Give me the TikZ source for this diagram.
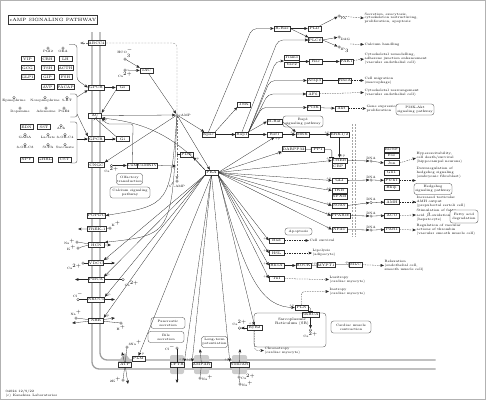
\documentclass[tikz,border=0pt]{standalone}
\usepackage{xcolor}
\usepackage{tikz}
\usetikzlibrary{arrows, positioning}

\begin{document}
\begin{tikzpicture}[x=1pt, y=-1pt,
			>=stealth',
			shorten >=0.3pt,
			line width=0.28pt,
			font=\fontsize{3.6}{4.2}\selectfont,
			gene/.style={draw=black!80, fill=white, inner sep=0.4pt, minimum width=13pt, minimum height=5pt},
			cpd/.style={draw=black!80, fill=white, circle, inner sep=0pt, minimum size=2.6pt},
			lbl/.style={font=\fontsize{3.2}{3.6}\selectfont, inner sep=0.4pt},
			txt/.style={anchor=west, align=left, inner sep=0.5pt, font=\fontsize{3.3}{3.8}\selectfont},
			pmap/.style={draw=black!80, fill=white, rounded corners=2.5pt, align=center, inner sep=0.6pt, font=\fontsize{3.3}{3.8}\selectfont},
			act/.style={->, black!85},
			inh/.style={-|, black!85},
			ind/.style={->, black!85, dash pattern=on 1.5pt off 1pt},
			transp/.style={gray, dash pattern=on 2pt off 1.2pt},
			memb/.style={gray!75, line width=1.3pt, rounded corners=7pt},
			plab/.style={font=\fontsize{3}{3}\selectfont, inner sep=0.3pt}]

			\useasboundingbox (0,0) rectangle (486,400);
			\draw[gray!60, line width=0.7pt] (0.5,0.5) rectangle (485.5,399.5);

			% title and membranes
			\node[draw=black!80, inner sep=1pt, minimum width=80pt, minimum height=9pt, font=\fontsize{4.6}{5}\selectfont] (title) at (53,19.5) {cAMP SIGNALING PATHWAY};
			\draw[memb] (92,32) -- (92,369) -- (436,369);
			\draw[memb] (100,32) -- (100,360) -- (436,360);
			\fill[gray!50] (118,362) -- (125,353) -- (132,362) -- cycle;
			\fill[gray!40, rounded corners=2pt] (170,355) rectangle (184,374);
			\fill[gray!40, rounded corners=2pt] (194,355) rectangle (209,374);
			\fill[gray!40, rounded corners=2pt] (232,355) rectangle (247,374);

			% ligands
			\node[cpd, label={[lbl]below:PGI2}] (pgi2) at (48,48) {};
			\node[cpd, label={[lbl]below:OEA}] (oea) at (63,48) {};
			\node[gene] (vip) at (27.5,59) {VIP};
			\node[gene] (crh) at (47.5,59) {CRH};
			\node[gene] (lh) at (65.5,59) {LH};
			\node[gene] (gcg) at (27.5,68) {GCG};
			\node[gene] (tsh) at (47.5,68) {TSH};
			\node[gene] (acth) at (65.5,68) {ACTH};
			\node[gene] (glp1) at (27.5,77) {GLP1};
			\node[gene] (gip) at (47.5,77) {GIP};
			\node[gene] (fsh) at (65.5,77) {FSH};
			\node[gene] (avp) at (47.5,87) {AVP};
			\node[gene] (pacap) at (65.5,87) {PACAP};
			\node[cpd, label={[lbl]below:Epinephrine}] (epi) at (14,97.5) {};
			\node[cpd, label={[lbl]below:Norepinephrine}] (nep) at (45,97.5) {};
			\node[cpd, label={[lbl]below:5-HT}] (ht5) at (67,97.5) {};
			\node[cpd, label={[lbl]below:Dopamine}] (dopa) at (20,108) {};
			\node[cpd, label={[lbl]below:Adenosine}] (ado) at (46,108) {};
			\node[cpd, label={[lbl]below:PGE2}] (pge2) at (64,108) {};
			\node[gene] (edn) at (26.5,127) {EDN};
			\node[gene] (sst) at (44,127) {SST};
			\node[cpd, label={[lbl]below:ACh}] (ach) at (61,125.5) {};
			\node[cpd, label={[lbl]below:GABA}] (gaba) at (25,134.5) {};
			\node[cpd, label={[lbl]below:Lactate}] (lac) at (48,134.5) {};
			\node[cpd, label={[lbl]below:3-OH-C4}] (ohcf) at (65,134.5) {};
			\node[cpd, label={[lbl]below:3-OH-C8}] (ohce) at (25,144.5) {};
			\node[cpd, label={[lbl]below:SCFA}] (scfa) at (48,144.5) {};
			\node[cpd, label={[lbl]below:Succinate}] (succ) at (65,144.5) {};
			\node[gene] (npy) at (26.5,159.5) {NPY};
			\node[gene] (ghrl) at (45,159.5) {GHRL};
			\node[gene] (cst) at (64.5,159.5) {CST};

			% membrane proteins
			\node[gene, minimum width=16pt] (abcc4) at (96.5,43) {ABCC4};
			\node[gene, minimum width=16pt] (gpcra) at (96,87.5) {GPCR};
			\node[gene] (gs) at (122.5,87.5) {Gs};
			\node[gene] (ac) at (95,115.5) {AC};
			\node[gene, minimum width=16pt] (gpcrb) at (96,139) {GPCR};
			\node[gene] (gi) at (122.5,139) {Gi};
			\node[gene, minimum width=16pt] (cngc) at (96.5,165) {CNGC};
			\node[gene, minimum width=16pt] (popdc) at (96.5,215.5) {POPDC};
			\node[gene, minimum width=16pt] (trek) at (96.5,229) {TREK-1};
			\node[gene, minimum width=16pt] (hcn) at (96.5,245) {HCN};
			\node[gene, minimum width=15pt] (vdcc) at (96,263) {VDCC};
			\node[gene, minimum width=15pt] (pmca) at (96,279.5) {PMCA};
			\node[gene, minimum width=15pt] (nkcc) at (96,299.5) {NKCC1};
			\node[gene, minimum width=15pt] (nhe) at (96,320.5) {NHE};
			\node[gene] (atp) at (125,364.5) {ATP};
			\node[gene] (plm) at (138.5,358.5) {PLM};
			\node[gene] (cftr) at (177,364.5) {CFTR};
			\node[gene, minimum width=16pt] (ampar) at (201.5,364.5) {AMPAR};
			\node[gene, minimum width=16pt] (nmdar) at (239.5,364.5) {NMDAR};

			% ions
			\node[cpd, label={[lbl]above:HCO$_3^-$}] (hco) at (125,59) {};
			\node[cpd, label={[lbl]below:Ca$^{2+}$}] (casac) at (125,70) {};
			\node[cpd, label={[lbl]below:Ca$^{2+}$}] (cacng) at (111.5,165.5) {};
			\node[cpd, label={[lbl]above right:K$^+$}] (ktrek) at (110,228) {};
			\node[cpd, label={[lbl]left:Na$^+$}] (nahcn) at (77,242) {};
			\node[cpd, label={[lbl]left:K$^+$}] (khcn) at (78,248) {};
			\node[cpd, label={[lbl]below left:Ca$^{2+}$}] (cavd) at (83,263) {};
			\node[cpd, label={[lbl]below right:Ca$^{2+}$}] (capm) at (123,279.5) {};
			\node[cpd, label={[lbl]above:Cl$^-$}] (clnk) at (78,299.5) {};
			\node[cpd, label={[lbl]above:Na$^+$}] (nanhe) at (76,318) {};
			\node[cpd, label={[lbl]below:H$^+$}] (hnhe) at (121,323) {};
			\node[cpd, label={[lbl]above right:3Na$^+$}] (nathree) at (127,347) {};
			\node[cpd, label={[lbl]left:2K$^+$}] (ktwo) at (123,380) {};
			\node[cpd, label={[lbl]left:Cl$^-$}] (clcf) at (177,348) {};
			\node[cpd, label={[lbl]right:Na$^+$}] (naamp) at (200,378) {};
			\node[cpd, label={[lbl]right:Ca$^{2+}$}] (canm) at (239,377) {};
			\node[cpd, label={[lbl]right:Na$^+$}] (nanm) at (240,384) {};
			\coordinate (about) at (80,43);
			\coordinate (trekout) at (78,229);
			\coordinate (hcnin) at (111,245);
			\coordinate (vdin) at (115,263);
			\coordinate (pmout) at (75,279.5);
			\coordinate (nkin) at (115,299.5);
			\coordinate (nhein) at (115,318);
			\coordinate (nheout) at (72,323);
			\coordinate (kin) at (122,352);
			\coordinate (naout) at (128,384);
			\coordinate (clout) at (177,383);
			\coordinate (ampin) at (200,349);
			\coordinate (nmin) at (240,349);

			% cytoplasm
			\node[gene] (sac) at (146.5,70.5) {sAC};
			\node[cpd, label={[lbl]right:cAMP}] (camp) at (177,115) {};
			\node[cpd, label={[lbl]below:5$'$-AMP}] (ampf) at (177,181) {};
			\node[gene] (pde) at (186.5,154.5) {PDE};
			\node[gene] (pka) at (211.5,172.5) {PKA};
			\node[gene, minimum width=11pt] (cam) at (132.5,165.5) {CaM};
			\node[gene, minimum width=19pt] (camkiv) at (147.5,165.5) {CaMKIV};
			\node[pmap, minimum width=25pt, minimum height=11pt] (olf) at (129.5,179) {Olfactory\\transduction};
			\node[pmap, minimum width=40pt, minimum height=11pt] (calsig) at (130,192.5) {Calcium signaling\\pathway};
			\coordinate (pdehit) at (177,154.5);
			\coordinate (pdehitb) at (176,166);

			\node[gene] (epac) at (208.5,134.5) {Epac};
			\node[gene] (rapa) at (242,134.5) {Rap1};
			\node[gene] (jnk) at (244,104.5) {JNK};
			\node[gene, minimum width=16pt] (rras) at (282,28.5) {R-Ras};
			\node[gene] (pld) at (314.5,28.5) {PLD};
			\node[gene] (plce) at (315.5,40) {PLC$\varepsilon$};
			\node[cpd, label={[lbl]below right:PA}] (pa) at (339,16) {};
			\node[cpd, label={[lbl]below right:DAG}] (dag) at (339,37) {};
			\node[cpd, label={[lbl]below right:IP$_3$}] (ipt) at (339,47) {};
			\coordinate (dagip) at (350,44);
			\node[txt] (sectxt) at (364,18) {Secretion, exocytosis,\\cytoskeleton restructuring,\\proliferation, apoptosis};
			\node[txt] (calctxt) at (364,44.5) {Calcium handling};
			\node[gene, minimum width=15pt] (tiam) at (291.5,57.5) {Tiam1};
			\node[gene, minimum width=15pt, below=2pt of tiam] (vav) {Vav2};
			\coordinate (tvin) at (284,61);
			\coordinate (tvout) at (299,61.5);
			\node[gene] (rac) at (316,61.5) {Rac};
			\node[gene] (pak) at (346.5,61.5) {PAK1};
			\node[txt] (cytoa) at (364,59) {Cytoskeletal remodelling,\\adherens junction enhancement\\(vascular endothelial cell)};
			\node[gene, minimum width=15pt] (arap) at (314.5,80.5) {Arap3};
			\node[gene] (rhoaa) at (345,80.5) {RhoA};
			\node[txt] (migr) at (364,80.5) {Cell migration\\(macrophage)};
			\node[gene] (afsix) at (313,94) {AF6};
			\node[txt] (cytob) at (364,92.5) {Cytoskeletal rearrangement\\(vascular endothelial cell)};
			\node[gene] (pik) at (313.5,107.5) {PI3K};
			\node[gene] (akt) at (341.5,108.5) {Akt};
			\node[txt] (gexp) at (366,108.5) {Gene expression,\\proliferation};
			\node[pmap, minimum width=38pt, minimum height=11pt] (pikakt) at (415,109.5) {PI3K-Akt\\signaling pathway};
			\node[gene, minimum width=15pt] (braf) at (274.5,121.5) {B-Raf};
			\node[gene, minimum width=15pt] (rafa) at (274.5,134.5) {Raf1};
			\node[pmap, minimum width=40pt, minimum height=11pt] (rapmap) at (303,121.5) {Rap1\\signaling pathway};
			\node[gene] (mek) at (302.5,134.5) {MEK};
			\node[gene, minimum width=15pt] (erk) at (339.5,134.5) {ERK1/2};
			\node[gene, minimum width=17pt] (darpp) at (293.5,149) {DARPP32};
			\node[gene] (ppa) at (318,149.5) {PP1};

			% nucleus
			\draw[transp, gray!70] (352.5,124) -- (352.5,237);
			\draw[transp, gray!70] (355.5,124) -- (355.5,237);
			\node[gene, minimum width=15pt] (creb) at (339.5,160.5) {CREB};
			\node[gene, below left=0pt and -13pt of creb] (cbp) {CBP};
			\node[cpd, label={[lbl]above:DNA}] (dnaa) at (371,161) {};
			\node[gene, minimum width=15pt] (bdnf) at (391.5,149.5) {BDNF};
			\node[gene, minimum width=15pt] (fos) at (391.5,155.5) {Fos};
			\node[gene, minimum width=15pt] (jun) at (391.5,163) {Jun};
			\node[txt] (hyper) at (416,158) {Hyperexcitability,\\cell death/survival\\(hippocampal neurons)};
			\node[gene, minimum width=15pt] (gli) at (339.5,180.5) {GLI};
			\node[cpd, label={[lbl]above:DNA}] (dnab) at (371,180) {};
			\node[gene, minimum width=15pt] (glia) at (391.5,172.5) {Gli1};
			\node[gene, minimum width=15pt] (ptch) at (391.5,180.5) {Ptch1};
			\node[gene, minimum width=15pt] (hhip) at (391.5,188) {Hhip};
			\node[txt] (dhh) at (416,173) {Downregulation of\\hedgehog signaling\\(embryonic fibroblast)};
			\node[pmap, minimum width=38pt, minimum height=11pt] (hhmap) at (433,189) {Hedgehog\\signaling pathway};
			\node[gene, minimum width=15pt] (ikb) at (339.5,190.5) {I$\kappa$B};
			\node[gene, minimum width=15pt] (nfkb) at (339.5,196.5) {NF$\kappa$B};
			\node[gene, minimum width=15pt] (soxn) at (339.5,205.5) {SOX9};
			\node[cpd, label={[lbl]above:DNA}] (dnac) at (371,202.5) {};
			\node[gene, minimum width=15pt] (amh) at (392,202) {AMH};
			\node[txt] (amhtxt) at (416,202) {Increased testicular\\AMH output\\(prepubertal sertoli cell)};
			\node[gene, minimum width=16pt] (ppar) at (340.5,215.5) {PPAR$\alpha$};
			\node[cpd, label={[lbl]above:DNA}] (dnad) at (371,216) {};
			\node[gene, minimum width=15pt] (aco) at (392,215.5) {ACO};
			\node[txt] (fattxt) at (416,215) {Stimulation of fatty\\acid $\beta$-oxidation\\(hepatocyte)};
			\node[pmap, minimum width=28pt, minimum height=13pt] (fadmap) at (464,216.5) {Fatty acid\\degradation};
			\node[gene, minimum width=15pt] (nfat) at (339.5,229.5) {NFAT};
			\node[cpd, label={[lbl]above:DNA}] (dnae) at (371,230) {};
			\node[gene, minimum width=15pt] (parn) at (392,229.5) {PAR1};
			\node[txt] (thrtxt) at (416,230) {Regulation of vascular\\actions of thrombin\\(vascular smooth muscle cell)};

			% PKA targets
			\node[pmap, minimum width=27pt, minimum height=7pt] (apopt) at (298.5,231.5) {Apoptosis};
			\node[gene, minimum width=15pt] (bad) at (276.5,240.5) {Bad};
			\node[txt] (survtxt) at (309,240.5) {Cell survival};
			\node[gene, minimum width=15pt] (hsl) at (276.5,253) {HSL};
			\node[txt] (lipotxt) at (312,253) {Lipolysis\\(adipocyte)};
			\node[gene, minimum width=15pt] (rhoab) at (276.5,265.5) {RhoA};
			\node[gene, minimum width=15pt] (rock) at (303.5,265.5) {ROCK};
			\node[gene, minimum width=15pt] (mypt) at (326,265) {MYPT1};
			\node[gene] (mlc) at (355.5,264.5) {MLC};
			\node[txt] (relax) at (384,265.5) {Relaxation\\(endothelial cell,\\smooth muscle cell)};
			\node[gene, minimum width=15pt] (tni) at (276.5,278.5) {TnI};
			\node[txt] (lusi) at (329,279.5) {Lusitropy\\(cardiac myocyte)};
			\node[txt] (ino) at (329,291.5) {Inotropy\\(cardiac myocyte)};

			% sarcoplasmic reticulum and maps
			\node[draw=black!80, rounded corners=3pt, minimum width=72pt, minimum height=34pt] (sr) at (290,330) {};
			\node[align=center, inner sep=0pt] (srtxt) at (292,322) {Sarcoplasmic\\Reticulum (SR)};
			\node[gene, minimum width=15pt] (ryr) at (254.5,328) {RyR2};
			\node[cpd, label={[lbl]above:Ca$^{2+}$}] (caryr) at (239.5,328) {};
			\node[txt] (chrono) at (264,350.5) {Chronotropy\\(cardiac myocyte)};
			\node[gene] (pln) at (301.5,307.5) {PLN};
			\node[gene, minimum width=17pt] (serca) at (310.5,314.5) {SERCA};
			\node[cpd, label={[lbl]below:Ca$^{2+}$}] (casr) at (310.5,330) {};
			\node[pmap, minimum width=40pt, minimum height=12pt] (cmc) at (351,327) {Cardiac muscle\\contraction};
			\node[pmap, minimum width=34pt, minimum height=11pt] (pancr) at (168,323) {Pancreatic\\secretion};
			\node[pmap, minimum width=36pt, minimum height=11pt] (bile) at (166,337) {Bile\\secretion};
			\node[pmap, minimum width=26pt, minimum height=11pt] (ltp) at (214.5,342) {Long-term\\potentiation};
			\node[txt] (kegid) at (5,391.5) {04024 12/9/22};
			\node[txt] (kegcr) at (5,396) {(c) Kanehisa Laboratories};

			% ligand groups
			\coordinate (bra) at (77,97);
			\coordinate (brb) at (77,114);
			\coordinate (brc) at (77,139);
			\draw[act, rounded corners=3pt] (69,44.5) -- (77,44.5) -- (77,80) -- (gpcra.west);
			\draw[black!85, rounded corners=2pt] (70,94) -- (77,94) -- (77,117) -- (70,117);
			\draw[act] (bra) -- (gpcra.south west);
			\draw[act] (brb) -- (gpcrb.north west);
			\draw[black!85, rounded corners=2pt] (70,122) -- (77,122) -- (77,163) -- (70,163);
			\draw[act] (brc) -- (gpcrb.west);

			% receptors and cyclases
			\draw[act] (gpcra) -- (gs);
			\draw[act] (gpcrb) -- (gi);
			\draw[act] (gs.south west) -- (ac.north east);
			\draw[inh] (gi.north west) -- (ac.south);
			\draw[act] (ac.east) -- (camp);
			\draw[act] (hco) -- (sac.north west);
			\draw[act] (casac) -- (sac.west);
			\draw[act] (sac) -- (camp);
			\draw[act, rounded corners=2pt] (cam.north) -- (133,124) -- (107,124) -- (ac.south east);
			\draw[act] (pka.north west) .. controls (180,142) and (150,122) .. (ac.south east) node[plab, pos=1, anchor=north west]{+p};
			\draw[transp, rounded corners=4pt] (camp.north) |- (abcc4.east);
			\draw[transp, ->] (abcc4.west) -- (about);
			\draw[transp, ->] (camp.south) -- (ampf.north);
			\draw[black!85] (pde.west) -- (pdehit);
			\draw[act] (pka.north west) -- (pde.south east) node[plab, pos=1, anchor=north west]{+p};
			\draw[act] (camkiv.east) -- (pdehitb) node[plab, pos=1, anchor=north east]{+p};

			% cAMP effectors
			\draw[act] (camp) -- (epac);
			\draw[act] (camp) -- (pka);
			\draw[act] (camp) -- (cngc.north east);
			\draw[act] (camp) .. controls (170,205) .. (popdc.east);
			\draw[act] (camp) .. controls (172,235) .. (hcn.north east);
			\draw[act] (cacng) -- (cam);

			% channels
			\draw[act] (ktrek) -- (trek) -- (trekout);
			\draw[act] (nahcn) -- (hcn) -- (hcnin);
			\draw[black!85] (khcn) -- (hcn.west);
			\draw[act] (cavd) -- (vdcc) -- (vdin);
			\draw[act] (capm) -- (pmca) -- (pmout);
			\draw[act] (clnk) -- (nkcc) -- (nkin);
			\draw[act] (nanhe) -- (nhe) -- (nhein);
			\draw[act] (hnhe) -- (nhe) -- (nheout);
			\draw[act] (nathree) -- (atp) -- (naout);
			\draw[act] (ktwo) -- (atp) -- (kin);
			\draw[act] (clcf) -- (cftr) -- (clout);
			\draw[act] (naamp) -- (ampar) -- (ampin);
			\draw[act] (canm) -- (nmdar) -- (nmin);
			\draw[black!85] (nanm) -- (canm);

			% Epac and Rap1
			\draw[act] (epac) -- (rapa);
			\draw[act] (epac.north east) -- (jnk.south west);
			\draw[act, rounded corners=5pt] (epac.north) -- (252,28.5) -- (rras.west);
			\draw[act, rounded corners=5pt] (rapa.north) -- (278,40) -- (plce.west);
			\draw[act, rounded corners=5pt] (rapa.north east) -- (276,61) -- (tvin);
			\draw[act, rounded corners=5pt] (rapa.north east) -- (270,80.5) -- (arap.west);
			\draw[act, rounded corners=5pt] (rapa.north east) -- (268,94) -- (afsix.west);
			\draw[act, rounded corners=4pt] (rapa.north east) -- (262,107.5) -- (pik.west);
			\draw[act] (rapa.north east) -- (braf.west);
			\draw[act] (rapa) -- (rafa);
			\draw[act] (rras) -- (pld);
			\draw[act] (rras.east) -- (plce.north west);
			\draw[act] (pld) -- (pa);
			\draw[act] (plce.east) -- (dag);
			\draw[act] (plce.east) -- (ipt);
			\draw[ind] (pa) -- (sectxt.west);
			\draw[ind] (dagip) -- (calctxt.west);
			\draw[act] (tvout) -- (rac);
			\draw[act] (rac) -- (pak);
			\draw[ind] (pak) -- (cytoa.west);
			\draw[inh] (arap) -- (rhoaa);
			\draw[ind] (rhoaa) -- (migr.west);
			\draw[ind] (afsix) -- (cytob.west);
			\draw[act] (pik) -- (akt);
			\draw[ind] (akt) -- (gexp.west);
			\draw[act] (braf.east) -- (mek.north west);
			\draw[act] (rafa) -- (mek) node[plab, pos=1, anchor=south east]{+p};
			\draw[act] (mek) -- (erk) node[plab, pos=1, anchor=south east]{+p};
			\draw[act] (erk) -- (creb) node[plab, pos=1, anchor=south west]{+p};

			% PKA substrates
			\draw[act] (pka.east) -- (rafa.south) node[plab, pos=1, anchor=north west]{+p};
			\draw[act] (pka.east) -- (darpp.south west) node[plab, pos=1, anchor=north east]{+p};
			\draw[inh] (darpp) -- (ppa);
			\draw[inh, rounded corners=2pt] (ppa.east) -| (creb.north west);
			\draw[act] (pka.east) -- (creb.west) node[plab, pos=1, anchor=south east]{+p};
			\draw[act] (pka.east) -- (gli.west) node[plab, pos=1, anchor=south east]{+p};
			\draw[act] (pka.east) -- (ikb.west) node[plab, pos=1, anchor=south east]{+p};
			\draw[act] (pka.east) -- (soxn.west) node[plab, pos=1, anchor=south east]{+p};
			\draw[act] (pka.east) -- (ppar.west) node[plab, pos=1, anchor=south east]{+p};
			\draw[act] (pka.east) -- (nfat.west) node[plab, pos=1, anchor=south east]{+p};
			\draw[act] (pka.south east) -- (bad.west) node[plab, pos=1, anchor=south east]{+p};
			\draw[act] (pka.south east) -- (hsl.west) node[plab, pos=1, anchor=south east]{+p};
			\draw[act] (pka.south east) -- (rhoab.west) node[plab, pos=1, anchor=south east]{+p};
			\draw[act] (pka.south east) -- (tni.west) node[plab, pos=1, anchor=south east]{+p};
			\draw[act] (pka.south east) -- (ryr.north) node[plab, pos=1, anchor=south east]{+p};
			\draw[act] (pka.south east) .. controls (245,280) and (262,307.5) .. (pln.west) node[plab, pos=1, anchor=south east]{+p};
			\draw[act] (pka.south) -- (nmdar.north west) node[plab, pos=1, anchor=south east]{+p};
			\draw[act] (pka.south) -- (ampar.north west) node[plab, pos=1, anchor=south east]{+p};
			\draw[act] (pka.south) -- (cftr.north east) node[plab, pos=1, anchor=south east]{+p};
			\draw[act] (pka.south) -- (plm.north) node[plab, pos=1, anchor=south west]{+p};
			\draw[act] (pka.south west) -- (vdcc.north east) node[plab, pos=1, anchor=south west]{+p};
			\draw[act] (pka.south west) -- (pmca.north east) node[plab, pos=1, anchor=south west]{+p};
			\draw[act] (pka.south west) -- (nkcc.north east) node[plab, pos=1, anchor=south west]{+p};
			\draw[act] (pka.south west) -- (nhe.north east) node[plab, pos=1, anchor=south west]{+p};

			% transcription
			\draw[act] (creb.east) -- (dnaa);
			\draw[act] (dnaa) -- (jun.west);
			\draw[ind] (jun.east) -- (hyper.west);
			\draw[act] (gli) -- (dnab);
			\draw[act] (dnab) -- (ptch);
			\draw[ind] (ptch.east) -- (dhh.west |- ptch.east);
			\draw[act] (soxn.east) -- (dnac);
			\draw[act] (dnac) -- (amh);
			\draw[ind] (amh) -- (amhtxt.west);
			\draw[act] (ppar) -- (dnad);
			\draw[act] (dnad) -- (aco);
			\draw[ind] (aco) -- (fattxt.west);
			\draw[act] (nfat) -- (dnae);
			\draw[act] (dnae) -- (parn);
			\draw[ind] (parn) -- (thrtxt.west);

			% outputs
			\draw[ind] (bad) -- (survtxt.west);
			\draw[ind] (hsl) -- (lipotxt.west);
			\draw[act] (rhoab) -- (rock);
			\draw[inh] (rock) -- (mypt) node[plab, pos=1, anchor=south east]{+p};
			\draw[inh] (mypt) -- (mlc) node[plab, pos=1, anchor=south east]{-p};
			\draw[ind] (mlc) -- (relax.west);
			\draw[ind] (tni) -- (lusi.west);
			\draw[ind, rounded corners=3pt] (pln.north) |- (ino.west);
			\draw[act] (ryr) -- (caryr);
			\draw[ind, rounded corners=3pt] (ryr.south) |- (chrono.west);
			\draw[inh, rounded corners=1pt] (pln.east) -| (serca.north);
			\draw[act] (serca) -- (casr);
		\end{tikzpicture}
\end{document}
